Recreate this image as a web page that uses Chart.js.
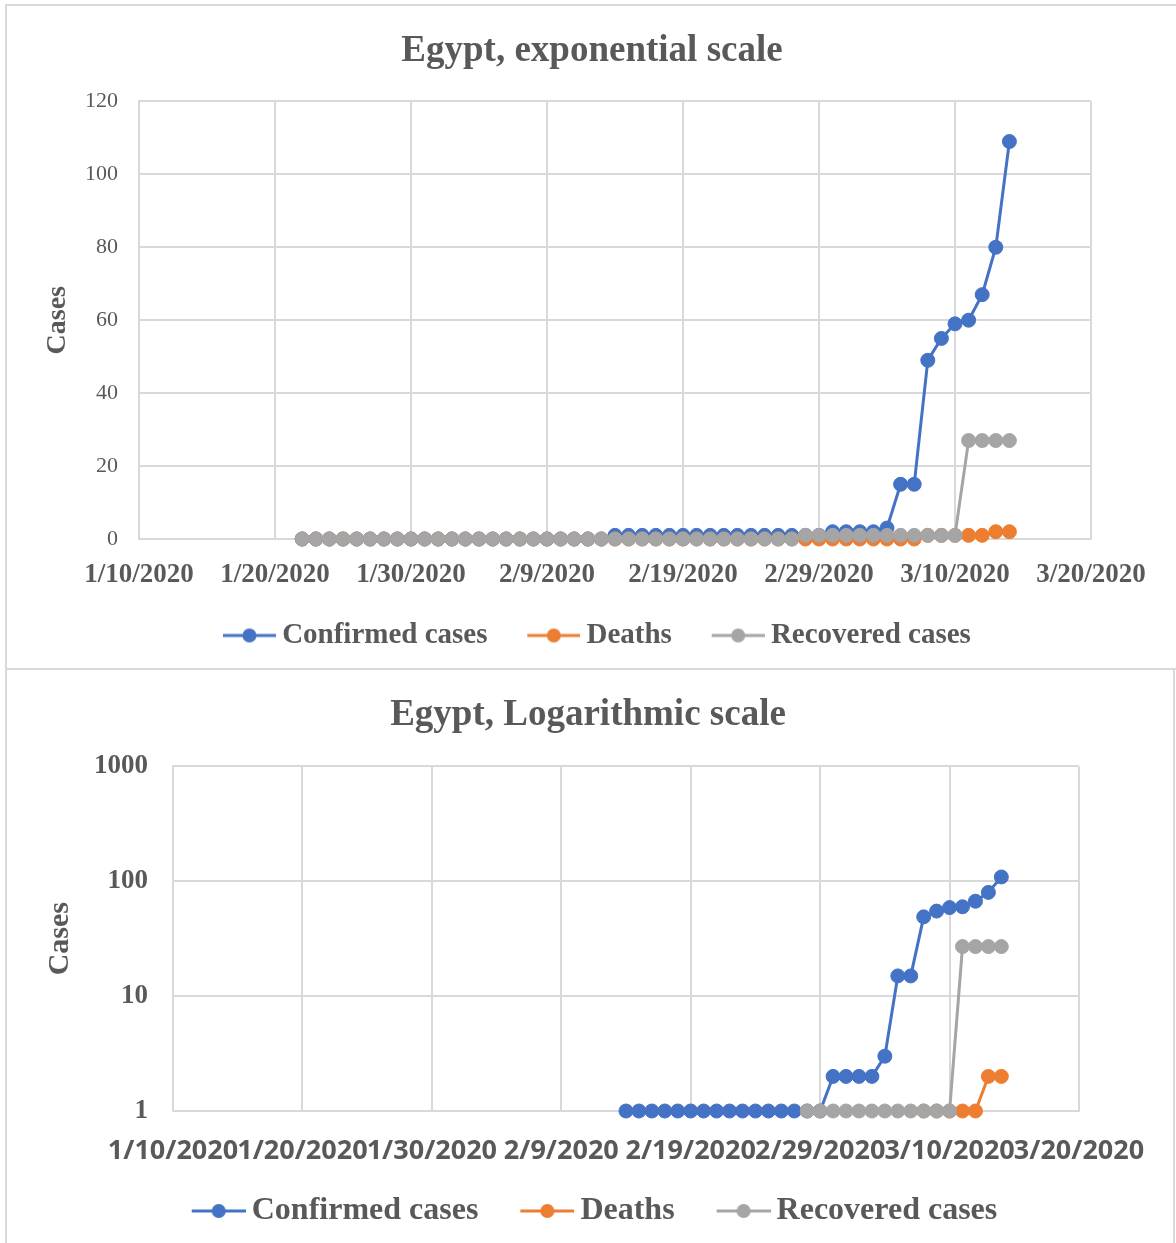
<!DOCTYPE html>
<html>
<head>
<meta charset="utf-8">
<title>Egypt COVID-19 cases</title>
<script src="https://cdn.jsdelivr.net/npm/chart.js@4.4.1/dist/chart.umd.min.js"></script>
<style>
  html, body { margin: 0; padding: 0; background: #ffffff; }
  body { width: 1176px; height: 1243px; position: relative; overflow: hidden; }
  .frame { position: absolute; box-sizing: border-box; border: 2px solid #d9d9d9; }
  #expFrame { left: 5px; top: 4px; width: 1200px; height: 666px; }
  #logFrame { left: 5px; top: 668px; width: 1170px; height: 700px; }
  canvas { position: absolute; left: 0; }
  #expChart { top: 0; }
  #logChart { top: 668px; }
</style>
</head>
<body>
<div class="frame" id="expFrame"></div>
<div class="frame" id="logFrame"></div>
<canvas id="expChart" width="1184" height="668" style="width:1184px;height:668px"></canvas>
<canvas id="logChart" width="1176" height="575" style="width:1176px;height:575px"></canvas>
<script>
// Daily counts for Egypt, 22 Jan – 14 Mar 2020
const dates = [
  "1/22/2020","1/23/2020","1/24/2020","1/25/2020","1/26/2020","1/27/2020","1/28/2020","1/29/2020","1/30/2020","1/31/2020",
  "2/1/2020","2/2/2020","2/3/2020","2/4/2020","2/5/2020","2/6/2020","2/7/2020","2/8/2020","2/9/2020","2/10/2020",
  "2/11/2020","2/12/2020","2/13/2020","2/14/2020","2/15/2020","2/16/2020","2/17/2020","2/18/2020","2/19/2020","2/20/2020",
  "2/21/2020","2/22/2020","2/23/2020","2/24/2020","2/25/2020","2/26/2020","2/27/2020","2/28/2020","2/29/2020",
  "3/1/2020","3/2/2020","3/3/2020","3/4/2020","3/5/2020","3/6/2020","3/7/2020","3/8/2020","3/9/2020","3/10/2020",
  "3/11/2020","3/12/2020","3/13/2020","3/14/2020"
];
const confirmed = [
  0,0,0,0,0,0,0,0,0,0,
  0,0,0,0,0,0,0,0,0,0,
  0,0,0,1,1,1,1,1,1,1,
  1,1,1,1,1,1,1,1,1,
  2,2,2,2,3,15,15,49,55,59,
  60,67,80,109
];
const deaths = [
  0,0,0,0,0,0,0,0,0,0,
  0,0,0,0,0,0,0,0,0,0,
  0,0,0,0,0,0,0,0,0,0,
  0,0,0,0,0,0,0,0,0,
  0,0,0,0,0,0,0,1,1,1,
  1,1,2,2
];
const recovered = [
  0,0,0,0,0,0,0,0,0,0,
  0,0,0,0,0,0,0,0,0,0,
  0,0,0,0,0,0,0,0,0,0,
  0,0,0,0,0,0,0,1,1,
  1,1,1,1,1,1,1,1,1,1,
  27,27,27,27
];
const seriesNames = ["Confirmed cases", "Deaths", "Recovered cases"];
const xTickLabels = ["1/10/2020","1/20/2020","1/30/2020","2/9/2020","2/19/2020","2/29/2020","3/10/2020","3/20/2020"];
const linearTicks = [0, 20, 40, 60, 80, 100, 120];
const logTicks = [1, 10, 100, 1000];

const seriesColors = ["#4472C4", "#ED7D31", "#A5A5A5"];
const TEXT = "#595959";
const GRID = "#d9d9d9";
const SERIF = "'Liberation Serif', 'Times New Roman', serif";
const SANS = "'Open Sans', 'Noto Sans', sans-serif";

const DAY_MS = 86400000;
function dayNumber(s) {
  const [m, d, y] = s.split('/').map(Number);
  return Date.UTC(y, m - 1, d) / DAY_MS;
}
const originDay = dayNumber(xTickLabels[0]);
const xs = dates.map(d => dayNumber(d) - originDay);
const xMax = dayNumber(xTickLabels[xTickLabels.length - 1]) - originDay;

// legend marker: short line with a dot, right-aligned in a wider transparent image
function makeMarker(color, imgW, len) {
  const c = document.createElement('canvas');
  c.width = imgW; c.height = 16;
  const g = c.getContext('2d');
  const x0 = imgW - len;
  g.strokeStyle = color; g.lineWidth = 3;
  g.beginPath(); g.moveTo(x0, 8); g.lineTo(imgW, 8); g.stroke();
  g.fillStyle = color;
  g.beginPath(); g.arc(x0 + len / 2, 8, 7, 0, Math.PI * 2); g.fill();
  return c;
}

function buildDatasets(logMode) {
  const values = [confirmed, deaths, recovered];
  return values.map((arr, i) => ({
    label: seriesNames[i],
    data: arr.map((v, k) => ({ x: xs[k], y: (logMode && v <= 0) ? null : v })),
    borderColor: seriesColors[i],
    backgroundColor: seriesColors[i],
    pointBackgroundColor: seriesColors[i],
    pointBorderColor: seriesColors[i],
    borderWidth: 3,
    pointRadius: 7,
    pointBorderWidth: 1,
    tension: 0,
    spanGaps: false,
    clip: false,
    order: 2 - i   // later series sit on top
  }));
}

function makeChart(canvas, cfg) {
  const markers = seriesColors.map(c => makeMarker(c, cfg.markerImgW, cfg.markerLen));
  const yScale = {
    type: cfg.logMode ? 'logarithmic' : 'linear',
    min: cfg.logMode ? logTicks[0] : linearTicks[0],
    max: cfg.logMode ? logTicks[logTicks.length - 1] : linearTicks[linearTicks.length - 1],
    afterBuildTicks: s => { s.ticks = (cfg.logMode ? logTicks : linearTicks).map(v => ({ value: v })); },
    ticks: {
      padding: cfg.yTickPad,
      color: TEXT,
      font: { family: SERIF, size: cfg.yTickSize, weight: cfg.yTickWeight },
      callback: v => String(v)
    },
    grid: { color: GRID, lineWidth: 2, drawTicks: false },
    border: { color: GRID, width: 2 },
    title: {
      display: true, text: 'Cases', color: TEXT,
      font: { family: SERIF, size: cfg.yTitleSize, weight: 'bold' },
      padding: { top: cfg.yTitlePad, bottom: 0 }
    },
    afterFit: s => { s.width = cfg.plotLeft; }
  };
  return new Chart(canvas, {
    type: 'line',
    data: { datasets: buildDatasets(cfg.logMode) },
    options: {
      responsive: false,
      animation: false,
      events: [],
      layout: { padding: { left: 0, right: 0, top: 0, bottom: cfg.padBottom } },
      plugins: {
        title: {
          display: true, text: cfg.title, color: TEXT,
          font: { family: SERIF, size: 37, weight: 'bold', lineHeight: 1.2 },
          padding: { top: cfg.titlePadTop, bottom: cfg.titlePadBottom }
        },
        legend: {
          position: 'bottom',
          labels: {
            usePointStyle: true,
            pointStyleWidth: cfg.legendBoxW,
            padding: cfg.legendPad,
            color: TEXT,
            font: { family: SERIF, size: cfg.legendSize, weight: 'bold' },
            sort: (a, b) => a.datasetIndex - b.datasetIndex,
            generateLabels: chart => {
              const items = Chart.defaults.plugins.legend.labels.generateLabels(chart);
              items.forEach(it => { it.pointStyle = markers[it.datasetIndex]; });
              return items;
            }
          }
        },
        tooltip: { enabled: false }
      },
      scales: {
        x: {
          type: 'linear',
          min: 0, max: xMax,
          ticks: {
            stepSize: 10, autoSkip: false, maxRotation: 0, minRotation: 0,
            padding: cfg.xTickPad, color: TEXT,
            font: { family: cfg.xTickFamily, size: cfg.xTickSize, weight: 'bold', lineHeight: 1.2 },
            callback: (v, i) => xTickLabels[i]
          },
          grid: { color: GRID, lineWidth: 2, drawTicks: false },
          border: { color: GRID, width: 2 },
          afterFit: s => { s.height = cfg.xAxisH; }
        },
        y: yScale,
        yRight: {
          position: 'right',
          display: true,
          ticks: { display: false },
          grid: { display: false, drawTicks: false },
          border: { display: false },
          afterFit: s => { s.width = cfg.rightGap; }
        }
      }
    }
  });
}

makeChart(document.getElementById('expChart'), {
  logMode: false,
  title: 'Egypt, exponential scale',
  titlePadTop: 29, titlePadBottom: 28,
  plotLeft: 139, rightGap: 1184 - 1091,
  yTickPad: 21, yTickSize: 22, yTickWeight: 'normal',
  yTitleSize: 28, yTitlePad: 41,
  xTickPad: 20, xTickSize: 27, xTickFamily: SERIF, xAxisH: 52,
  legendSize: 29, legendBoxW: 54.5, legendPad: 30, markerImgW: 71, markerLen: 53,
  padBottom: 8
});

makeChart(document.getElementById('logChart'), {
  logMode: true,
  title: 'Egypt, Logarithmic scale',
  titlePadTop: 25, titlePadBottom: 29,
  plotLeft: 173, rightGap: 1176 - 1079,
  yTickPad: 25, yTickSize: 27, yTickWeight: 'bold',
  yTitleSize: 30, yTitlePad: 42,
  xTickPad: 24, xTickSize: 27, xTickFamily: SANS, xAxisH: 55,
  legendSize: 32, legendBoxW: 57, legendPad: 29, markerImgW: 77, markerLen: 54,
  padBottom: 6
});
</script>
</body>
</html>
